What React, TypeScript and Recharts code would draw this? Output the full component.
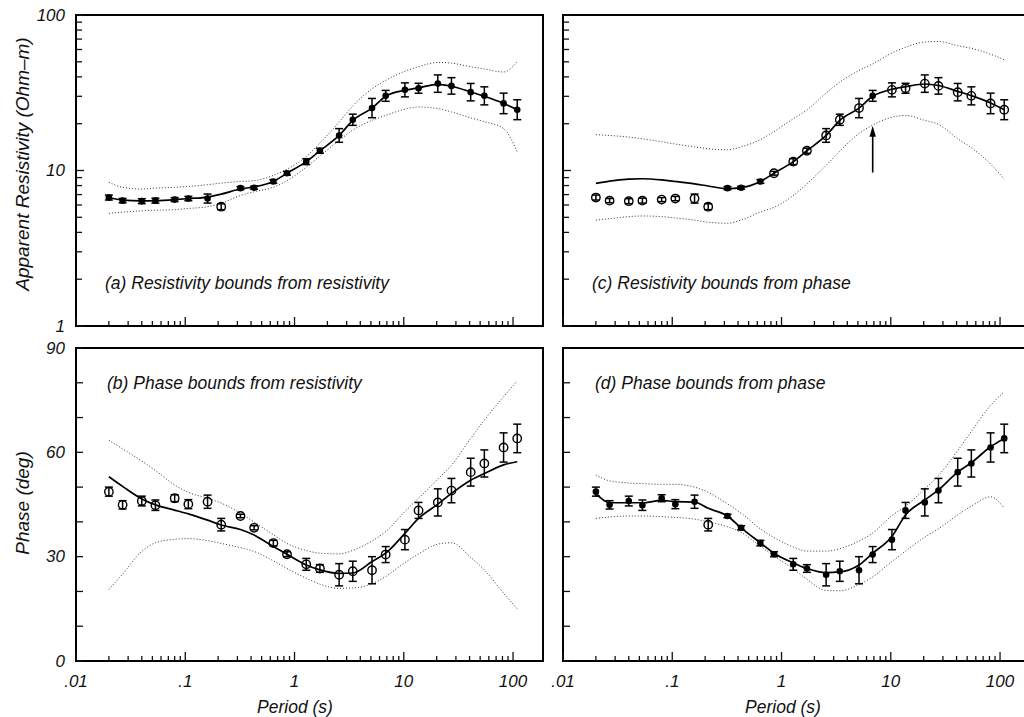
import React from 'react'
import {
  ComposedChart,
  ErrorBar,
  Line,
  ReferenceArea,
  ReferenceLine,
  Scatter,
  XAxis,
  YAxis,
} from 'recharts'

// periods (s) shared by all four panels
const periods = [
  0.02, 0.0267, 0.04, 0.0533, 0.08, 0.1067, 0.16, 0.2133, 0.32, 0.4267, 0.64, 0.8533, 1.28,
  1.707, 2.56, 3.413, 5.12, 6.827, 10.24, 13.65, 20.48, 27.31, 40.96, 54.61, 81.92, 109.2,
]

// observed data
const rhoObs = [
  6.7, 6.4, 6.35, 6.4, 6.5, 6.6, 6.6, 5.85, 7.7, 7.75, 8.5, 9.6, 11.4, 13.4, 16.8, 21.2, 25.2,
  30.2, 33.0, 33.8, 36.2, 35.0, 31.9, 30.2, 27.0, 24.6,
]
// error half-width in decades
const rhoErrDec = [
  0.016, 0.014, 0.016, 0.016, 0.013, 0.014, 0.029, 0.019, 0.01, 0.01, 0.012, 0.012, 0.019,
  0.016, 0.044, 0.036, 0.062, 0.035, 0.045, 0.032, 0.056, 0.053, 0.056, 0.058, 0.066, 0.064,
]
const phaseObs = [
  48.7, 44.9, 46.0, 44.8, 46.8, 45.1, 45.8, 39.2, 41.7, 38.3, 33.9, 30.7, 27.8, 26.6, 24.8, 25.8,
  26.1, 30.6, 34.9, 43.3, 45.6, 49.0, 54.3, 56.8, 61.4, 64.0,
]
const phaseErr = [
  1.3, 1.2, 1.4, 1.5, 1.0, 1.3, 1.9, 1.8, 0.5, 0.6, 0.8, 0.7, 1.7, 1.1, 3.2, 2.9, 3.9, 2.3, 2.9,
  2.3, 3.9, 3.5, 4.0, 3.9, 4.2, 4.1,
]

// (a) resistivity bounds from resistivity
const modelA = [
  6.7, 6.45, 6.38, 6.4, 6.5, 6.6, 6.75, 7.05, 7.6, 7.85, 8.5, 9.6, 11.4, 13.4, 16.8, 21.0, 25.2,
  30.0, 32.8, 34.0, 35.8, 34.8, 32.0, 30.0, 27.0, 24.6,
]
const upperA = [
  8.4, 7.8, 7.6, 7.7, 7.8, 7.9, 8.1, 8.3, 8.5, 8.6, 9.3, 10.2, 12.3, 15.0, 20.5, 26.0, 33.5, 38.0,
  43.5, 46.5, 49.5, 49.0, 46.5, 45.0, 43.0, 50.0,
]
const lowerA = [
  5.3, 5.4, 5.5, 5.55, 5.6, 5.7, 5.85, 6.15, 6.9, 7.3, 7.8, 8.6, 10.5, 12.4, 15.6, 18.2, 21.0,
  22.6, 24.8, 25.6, 25.0, 23.8, 21.8, 20.6, 18.6, 13.2,
]
const openA = [7]

// (b) phase bounds from resistivity
const modelB = [
  53.0, 50.2, 46.6, 44.9, 43.4, 42.3, 40.5, 39.1, 37.8, 36.2, 32.9, 30.7, 27.6, 26.2, 25.2, 25.3,
  28.6, 31.0, 36.7, 41.0, 45.1, 48.2, 52.0, 53.9, 56.4, 57.3,
]
const upperB = [
  63.5, 61.0, 57.5, 54.8, 50.6, 48.5, 46.8, 45.4, 42.5, 40.0, 36.3, 33.8, 31.8, 31.0, 30.8, 31.8,
  34.5, 37.2, 43.0, 46.8, 52.3, 56.3, 64.0, 69.3, 76.0, 80.5,
]
const lowerB = [
  20.6, 25.0, 31.5, 34.0, 35.0, 35.2, 34.6, 33.8, 32.6, 31.5, 28.8, 26.6, 23.8, 22.1, 20.9, 21.0,
  22.2, 24.3, 28.3, 30.8, 33.6, 34.0, 29.8, 26.2, 19.5, 15.0,
]
const openB = [0, 1, 2, 3, 4, 5, 6, 7, 8, 9, 10, 11, 12, 13, 14, 15, 16, 17, 18, 19, 20, 21, 22, 23, 24, 25]

// (c) resistivity bounds from phase
const modelC = [
  8.26, 8.55, 8.8, 8.85, 8.7, 8.5, 8.2, 7.95, 7.65, 7.75, 8.5, 9.6, 11.4, 13.4, 16.8, 21.0, 25.2,
  30.0, 33.3, 34.6, 36.0, 35.2, 32.3, 30.3, 27.2, 24.6,
]
const upperC = [
  17.0, 16.8, 16.4, 16.0, 15.3, 14.8, 14.2, 13.8, 13.6, 14.2, 15.8, 17.8, 21.5, 24.5, 31.5, 37.0,
  44.0, 48.5, 57.0, 62.0, 67.0, 67.5, 63.5, 61.0, 56.0, 51.5,
]
const lowerC = [
  4.8, 4.9, 5.05, 5.1, 5.05, 4.95, 4.8, 4.65, 4.58, 4.8, 5.4, 5.8, 6.9, 8.2, 10.8, 13.3, 17.3,
  19.6, 22.0, 22.6, 21.0, 19.8, 16.0, 14.0, 11.0, 8.8,
]
const openC = [0, 1, 2, 3, 4, 5, 6, 7, 11, 12, 13, 14, 15, 16, 18, 19, 20, 21, 22, 23, 24, 25]
const arrowPeriod = 6.83
const arrowFrom = 9.7
const arrowTo = 19.4

// (d) phase bounds from phase
const modelD = [
  48.2, 45.5, 45.5, 45.5, 46.2, 45.8, 45.7, 43.9, 41.7, 38.3, 34.0, 31.0, 28.2, 26.6, 25.4, 25.6,
  27.6, 31.0, 35.8, 42.0, 46.3, 49.2, 54.3, 57.0, 61.6, 64.0,
]
const upperD = [
  53.5, 51.8, 51.2, 51.0, 50.8, 50.8, 50.0, 48.5, 45.2, 42.5, 38.0, 35.5, 32.8, 31.6, 31.6, 32.3,
  34.5, 36.8, 41.8, 44.5, 49.5, 53.3, 60.5, 66.0, 73.5, 77.4,
]
const lowerD = [
  41.0, 41.4, 41.7, 41.7, 41.5, 41.3, 40.8, 40.0, 38.6, 37.0, 33.0, 30.2, 26.5, 23.5, 20.3, 20.2,
  22.0, 24.2, 28.6, 31.6, 35.6, 38.0, 42.0, 44.5, 47.2, 44.0,
]
const openD = [7]

// axes
const xDomain = [0.01, 188]
const xTicks = [
  0.01, 0.02, 0.03, 0.04, 0.05, 0.06, 0.07, 0.08, 0.09, 0.1, 0.2, 0.3, 0.4, 0.5, 0.6, 0.7, 0.8,
  0.9, 1, 2, 3, 4, 5, 6, 7, 8, 9, 10, 20, 30, 40, 50, 60, 70, 80, 90, 100,
]
const xDecades = [0.01, 0.1, 1, 10, 100]
const xDecadeLabels = ['.01', '.1', '1', '10', '100']
const rhoTicks = [
  1, 2, 3, 4, 5, 6, 7, 8, 9, 10, 20, 30, 40, 50, 60, 70, 80, 90, 100,
]
const rhoDecades = [1, 10, 100]
const rhoDecadeLabels = ['1', '10', '100']
const phaseTicks = [0, 10, 20, 30, 40, 50, 60, 70, 80, 90]
const phaseLabelTicks = [0, 30, 60, 90]
const phaseLabels = ['0', '30', '60', '90']

const FONT = '"Liberation Sans", Arial, Helvetica, sans-serif'

type Row = {
  period: number
  obs: number
  err: [number, number]
  model: number
  upper: number
  lower: number
  open: boolean
}

const buildRho = (model: number[], upper: number[], lower: number[], open: number[]): Row[] =>
  periods.map((p, i) => {
    const f = Math.pow(10, rhoErrDec[i])
    const v = rhoObs[i]
    return { period: p, obs: v, err: [v - v / f, v * f - v], model: model[i], upper: upper[i], lower: lower[i], open: open.includes(i) }
  })

const buildPhase = (model: number[], upper: number[], lower: number[], open: number[]): Row[] =>
  periods.map((p, i) => ({
    period: p,
    obs: phaseObs[i],
    err: [phaseErr[i], phaseErr[i]],
    model: model[i],
    upper: upper[i],
    lower: lower[i],
    open: open.includes(i),
  }))

const rowsA = buildRho(modelA, upperA, lowerA, openA)
const rowsB = buildPhase(modelB, upperB, lowerB, openB)
const rowsC = buildRho(modelC, upperC, lowerC, openC)
const rowsD = buildPhase(modelD, upperD, lowerD, openD)

const makeXTick = (showLabels: boolean) => (props: any) => {
  const { x, y, payload } = props
  const idx = xDecades.indexOf(payload.value)
  const len = idx >= 0 ? 9 : 5
  return (
    <g>
      <line x1={x} x2={x} y1={y} y2={y - len} stroke="#111" strokeWidth={1.3} />
      {showLabels && idx >= 0 && (
        <text x={x} y={y + 20} textAnchor="middle" dominantBaseline="central" fontFamily={FONT} fontStyle="italic" fontSize={17} fill="#111">
          {xDecadeLabels[idx]}
        </text>
      )}
    </g>
  )
}

const makeYTick = (kind: 'rho' | 'phase', showLabels: boolean) => (props: any) => {
  const { x, y, payload } = props
  let label: string | null = null
  let len = 7
  if (kind === 'rho') {
    const idx = rhoDecades.indexOf(payload.value)
    if (idx >= 0) label = rhoDecadeLabels[idx]
    len = idx >= 0 ? 8 : 6
  } else {
    const idx = phaseLabelTicks.indexOf(payload.value)
    if (idx >= 0) label = phaseLabels[idx]
  }
  return (
    <g>
      <line x1={x} x2={x + len} y1={y} y2={y} stroke="#111" strokeWidth={1.3} />
      {showLabels && label && (
        <text x={x - 11} y={y} textAnchor="end" dominantBaseline="central" fontFamily={FONT} fontStyle="italic" fontSize={17} fill="#111">
          {label}
        </text>
      )}
    </g>
  )
}

const FilledDot = (p: any) => <circle cx={p.cx} cy={p.cy} r={3.3} fill="#000" />
const OpenDot = (p: any) => <circle cx={p.cx} cy={p.cy} r={4.2} fill="none" stroke="#000" strokeWidth={1.4} />

const ArrowShape = (p: any) => {
  const { x1, y1, x2, y2 } = p
  return (
    <g>
      <line x1={x1} y1={y1} x2={x2} y2={y2 + 6} stroke="#000" strokeWidth={1.6} />
      <path d={`M${x2},${y2} L${x2 - 3.2},${y2 + 11} L${x2 + 3.2},${y2 + 11} Z`} fill="#000" />
    </g>
  )
}

interface PanelProps {
  rows: Row[]
  kind: 'rho' | 'phase'
  left: number
  top: number
  width: number
  height: number
  marginTop: number
  marginRight: number
  yWidth: number
  xHeight: number
  showXLabels: boolean
  showYLabels: boolean
  children?: React.ReactNode
}

const Panel = ({ rows, kind, left, top, width, height, marginTop, marginRight, yWidth, xHeight, showXLabels, showYLabels, children }: PanelProps) => {
  const isRho = kind === 'rho'
  const yDomain = isRho ? [1, 100] : [0, 90]
  const filledRows = rows.filter((r) => !r.open)
  const openRows = rows.filter((r) => r.open)
  return (
    <div style={{ position: 'absolute', left, top, width, height }}>
      <ComposedChart width={width} height={height} data={rows} margin={{ top: marginTop, right: marginRight, bottom: 0, left: 0 }}>
        <XAxis
          dataKey="period"
          type="number"
          scale="log"
          domain={xDomain}
          allowDataOverflow
          ticks={xTicks}
          interval={0}
          tickSize={0}
          tickMargin={0}
          axisLine={false}
          tickLine={false}
          height={xHeight}
          tick={makeXTick(showXLabels)}
        />
        <YAxis
          type="number"
          scale={isRho ? 'log' : 'linear'}
          domain={yDomain}
          allowDataOverflow
          ticks={isRho ? rhoTicks : phaseTicks}
          interval={0}
          tickSize={0}
          tickMargin={0}
          axisLine={false}
          tickLine={false}
          width={yWidth}
          tick={makeYTick(kind, showYLabels)}
        />
        <ReferenceArea x1={xDomain[0]} x2={xDomain[1]} y1={yDomain[0]} y2={yDomain[1]} fill="none" stroke="#000" strokeWidth={2} strokeOpacity={1} />
        <Line dataKey="upper" type="monotone" stroke="#333" strokeWidth={1} strokeDasharray="1 2" dot={false} isAnimationActive={false} />
        <Line dataKey="lower" type="monotone" stroke="#333" strokeWidth={1} strokeDasharray="1 2" dot={false} isAnimationActive={false} />
        <Line dataKey="model" type="monotone" stroke="#000" strokeWidth={1.7} dot={false} isAnimationActive={false} />
        {filledRows.length > 0 && (
          <Scatter data={filledRows} dataKey="obs" shape={FilledDot} isAnimationActive={false}>
            <ErrorBar dataKey="err" direction="y" width={4} strokeWidth={1.5} stroke="#000" isAnimationActive={false} />
          </Scatter>
        )}
        {openRows.length > 0 && (
          <Scatter data={openRows} dataKey="obs" shape={OpenDot} isAnimationActive={false}>
            <ErrorBar dataKey="err" direction="y" width={4} strokeWidth={1.5} stroke="#000" isAnimationActive={false} />
          </Scatter>
        )}
        {children}
      </ComposedChart>
    </div>
  )
}

const textStyle: React.CSSProperties = {
  position: 'absolute',
  fontFamily: FONT,
  fontStyle: 'italic',
  fontSize: 17.5,
  lineHeight: '20px',
  color: '#111',
  whiteSpace: 'nowrap',
}

const rotatedTitle = (cx: number, cy: number): React.CSSProperties => ({
  ...textStyle,
  fontSize: 19,
  left: cx,
  top: cy,
  transform: 'translate(-50%, -50%) rotate(-90deg)',
})

export default function App() {
  return (
    <div style={{ position: 'absolute', left: 0, top: 0, width: 1024, height: 717, overflow: 'hidden', background: '#fff' }}>
      <Panel rows={rowsA} kind="rho" left={0} top={0} width={555} height={340} marginTop={15} marginRight={12} yWidth={76} xHeight={14} showXLabels={false} showYLabels />
      <Panel rows={rowsB} kind="phase" left={0} top={330} width={555} height={387} marginTop={18} marginRight={12} yWidth={76} xHeight={56} showXLabels showYLabels />
      <Panel rows={rowsC} kind="rho" left={550} top={0} width={474} height={340} marginTop={15} marginRight={-6} yWidth={13} xHeight={14} showXLabels={false} showYLabels={false}>
        <ReferenceLine
          segment={[
            { x: arrowPeriod, y: arrowFrom },
            { x: arrowPeriod, y: arrowTo },
          ]}
          shape={ArrowShape}
        />
      </Panel>
      <Panel rows={rowsD} kind="phase" left={550} top={330} width={474} height={387} marginTop={18} marginRight={-6} yWidth={13} xHeight={56} showXLabels showYLabels={false} />

      <div style={{ ...textStyle, left: 105, top: 273 }}>(a) Resistivity bounds from resistivity</div>
      <div style={{ ...textStyle, left: 592, top: 273 }}>(c) Resistivity bounds from phase</div>
      <div style={{ ...textStyle, left: 107, top: 373 }}>(b) Phase bounds from resistivity</div>
      <div style={{ ...textStyle, left: 595, top: 373 }}>(d) Phase bounds from phase</div>

      <div style={rotatedTitle(23, 164)}>Apparent Resistivity (Ohm–m)</div>
      <div style={rotatedTitle(23, 503)}>Phase (deg)</div>
      <div style={{ ...textStyle, left: 295, top: 707, transform: 'translate(-50%, -50%)' }}>Period (s)</div>
      <div style={{ ...textStyle, left: 783, top: 707, transform: 'translate(-50%, -50%)' }}>Period (s)</div>
    </div>
  )
}
